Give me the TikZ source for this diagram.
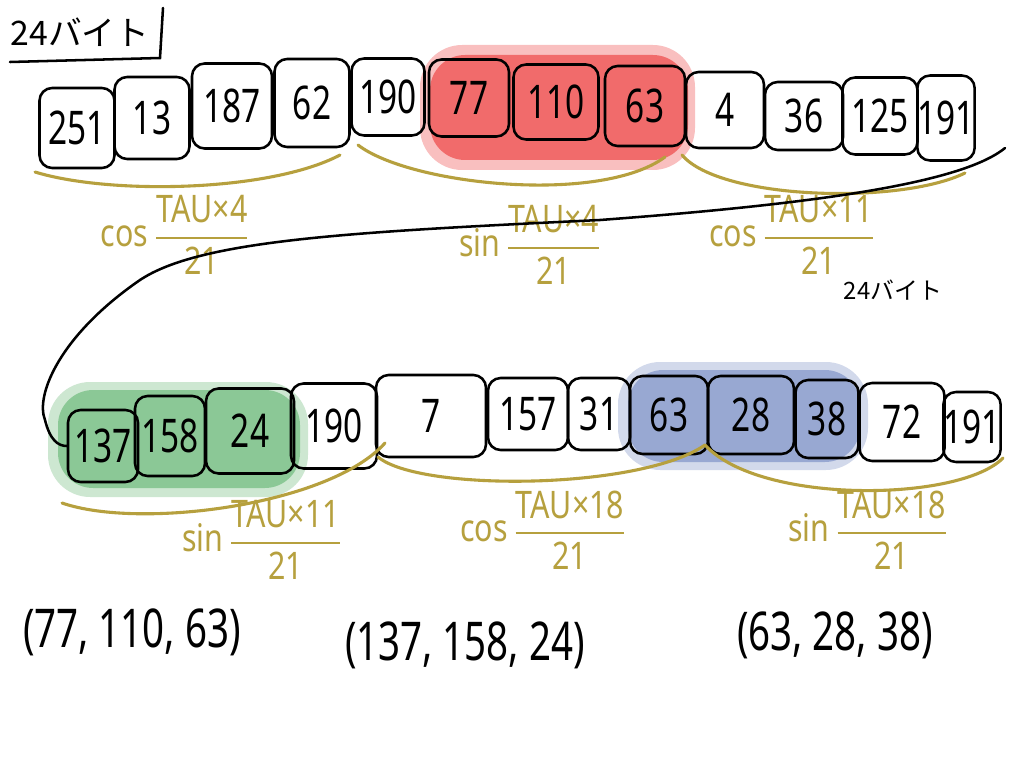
\documentclass[tikz,border=0pt]{standalone}
\usepackage{amsmath}
\usepackage{fontspec}
\setmainfont{Noto Sans}
\newfontfamily\jp{Noto Sans CJK JP}
\newfontfamily\cellfont[FakeStretch=0.72]{Noto Sans}
\newfontfamily\lblfont[FakeStretch=0.8]{Noto Sans}
\definecolor{gold}{RGB}{182,160,62}
\definecolor{hlred}{RGB}{238,72,72}
\definecolor{hlgreen}{RGB}{112,188,125}
\definecolor{hlblue}{RGB}{128,148,200}
\newcommand{\lfrac}[2]{$\genfrac{}{}{1.8pt}{0}{\text{#1}}{\text{#2}}$}
\begin{document}
\begin{tikzpicture}[x=0.025cm,y=-0.025cm,
  cell/.style={draw, line width=1.8pt, rounded corners=9pt, inner sep=0pt, font=\cellfont\fontsize{33}{36}\selectfont},
  w/.style={minimum width=#1*0.025cm},
  h/.style={minimum height=#1*0.025cm},
  brace/.style={draw=gold, line width=2.2pt, line cap=round},
  conn/.style={draw=black, line width=1.8pt, line cap=round},
  lbl/.style={text=gold, font=\lblfont\fontsize{27}{29}\selectfont, inner sep=0pt},
  tup/.style={font=\cellfont\fontsize{38}{40}\selectfont, inner sep=0pt},
  jptext/.style={font=\jp\fontsize{#1}{#1}\selectfont, inner sep=0pt}]
\useasboundingbox (0,0) rectangle (1024,768);
\fill[white] (0,0) rectangle (1024,768);
% highlights
\fill[hlred, opacity=0.35, rounded corners=30pt] (420,45) rectangle (695,170);
\fill[hlred, opacity=0.7, rounded corners=25pt] (430,55) rectangle (688,160);
\fill[hlgreen, opacity=0.35, rounded corners=30pt] (48,382) rectangle (308,497);
\fill[hlgreen, opacity=0.7, rounded corners=25pt] (58,390) rectangle (300,488);
\fill[hlblue, opacity=0.35, rounded corners=30pt] (618,362) rectangle (868,470);
\fill[hlblue, opacity=0.7, rounded corners=25pt] (628,370) rectangle (860,462);
% title
\node[jptext=24] (title) at (80,32) {24バイト};
\draw[conn] (10,62) -- (160,58) -- (163,8);
% top row
\node[cell,w=75,h=80] (t1) at (77,128) {251};
\node[cell,w=75,h=82] (t2) at (152,118) {13};
\node[cell,w=80,h=85] (t3) at (232,106) {187};
\node[cell,w=75,h=88] (t4) at (312,103) {62};
\node[cell,w=73,h=77] (t5) at (388,97) {190};
\node[cell,w=80,h=77] (t6) at (469,98) {77};
\node[cell,w=85,h=75] (t7) at (556,102) {110};
\node[cell,w=80,h=80] (t8) at (645,106) {63};
\node[cell,w=78,h=76] (t9) at (725,110) {4};
\node[cell,w=78,h=68] (t10) at (804,116) {36};
\node[cell,w=75,h=77] (t11) at (880,116) {125};
\node[cell,w=57,h=85] (t12) at (946,118) {191};
% top braces
\coordinate (c1a) at (35,172); \coordinate (c1b) at (340,155);
\draw[brace] (c1a) .. controls (110,195) and (270,192) .. (c1b);
\coordinate (s1a) at (358,145); \coordinate (s1b) at (665,157);
\draw[brace] (s1a) .. controls (410,185) and (600,205) .. (s1b);
\coordinate (c2a) at (682,155); \coordinate (c2b) at (965,173);
\draw[brace] (c2a) .. controls (720,200) and (900,205) .. (c2b);
% labels top
\node[lbl] (lc1) at (175,235) {cos\,\lfrac{TAU×4}{21}};
\node[lbl] (ls1) at (530,245) {sin\,\lfrac{TAU×4}{21}};
\node[lbl] (lc2) at (792,235) {cos\,\lfrac{TAU×11}{21}};
\node[jptext=17] (sub) at (893,290) {24バイト};
% bottom row
\node[cell,w=70,h=72] (b1) at (103,446) {137};
\node[cell,w=70,h=80] (b2) at (170,436) {158};
\node[cell,w=88,h=85] (b3) at (250,431) {24};
\node[cell,w=86,h=85] (b4) at (334,426) {190};
\node[cell,w=110,h=82] (b5) at (431,416) {7};
\node[cell,w=80,h=72] (b6) at (528,414) {157};
\node[cell,w=62,h=72] (b7) at (599,414) {31};
\node[cell,w=78,h=78] (b8) at (669,415) {63};
\node[cell,w=86,h=78] (b9) at (751,415) {28};
\node[cell,w=63,h=78] (b10) at (827,419) {38};
\node[cell,w=85,h=78] (b11) at (902,422) {72};
\node[cell,w=55,h=70] (b12) at (972,427) {191};
% connector from top row to bottom row
\coordinate (tEnd) at (1005,148);
\draw[conn] (tEnd) .. controls (960,185) and (800,205) .. (600,220)
  .. controls (350,232) and (200,240) .. (140,280)
  .. controls (60,335) and (35,395) .. (45,420)
  .. controls (50,440) and (58,446) .. (b1.west);
% bottom braces
\coordinate (s2a) at (62,503); \coordinate (s2b) at (385,443);
\draw[brace] (s2a) .. controls (140,530) and (330,505) .. (s2b);
\coordinate (c3a) at (378,457); \coordinate (c3b) at (705,445);
\draw[brace] (c3a) .. controls (420,492) and (640,490) .. (c3b);
\coordinate (s3a) at (705,445); \coordinate (s3b) at (1003,458);
\draw[brace] (s3a) .. controls (760,505) and (960,502) .. (s3b);
% labels bottom
\node[lbl] (ls2) at (262,540) {sin\,\lfrac{TAU×11}{21}};
\node[lbl] (lc3) at (543,530) {cos\,\lfrac{TAU×18}{21}};
\node[lbl] (ls3) at (868,530) {sin\,\lfrac{TAU×18}{21}};
% tuples
\node[tup] (r1) at (132,632) {(77, 110, 63)};
\node[tup] (r2) at (465,645) {(137, 158, 24)};
\node[tup] (r3) at (835,635) {(63, 28, 38)};
\end{tikzpicture}
\end{document}
